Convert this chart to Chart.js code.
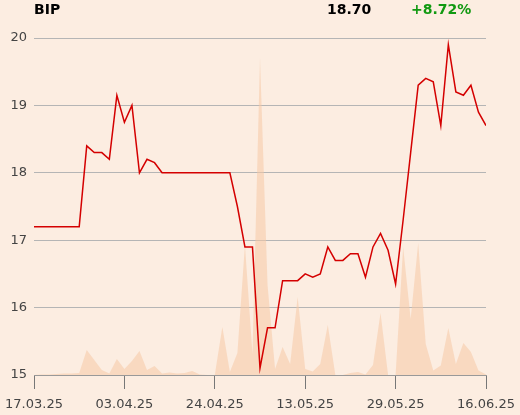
<!DOCTYPE html>
<html>
<head>
<meta charset="utf-8">
<script src="https://cdn.jsdelivr.net/npm/chart.js@4"></script>
<style>
  html, body { margin:0; padding:0; background:#FCEDE1; }
  #wrap { position:relative; width:520px; height:415px; }
  canvas { position:absolute; left:0; top:0; }
  .hdr { position:absolute; top:1px; font-family:"DejaVu Sans", sans-serif; font-weight:bold; font-size:14px; white-space:nowrap; }
</style>
</head>
<body>
<div id="wrap">
  <canvas id="c" width="520" height="415"></canvas>
  <div class="hdr" style="left:34px;color:#000;">BIP</div>
  <div class="hdr" style="left:327px;color:#000;">18.70</div>
  <div class="hdr" style="left:411px;color:#119911;">+8.72%</div>
</div>
<script>
const tickLabels = ['17.03.25','03.04.25','24.04.25','13.05.25','29.05.25','16.06.25'];
const price = [
  17.2,17.2,17.2,17.2,17.2,17.2,17.2,
  18.4,18.3,18.3,18.2,19.15,18.75,19.0,18.0,18.2,18.15,
  18.0,18.0,18.0,18.0,18.0,18.0,18.0,18.0,18.0,18.0,
  17.5,16.9,16.9,15.1,15.7,15.7,16.4,16.4,16.4,16.5,16.45,16.5,
  16.9,16.7,16.7,16.8,16.8,16.45,16.9,17.1,16.85,16.35,
  17.3,18.3,19.3,19.4,19.35,18.7,19.9,19.2,19.15,19.3,18.9,18.7
];
const volume = [
  0,0.5,0.5,1,1.5,1.5,2,
  25,15,5,1.5,16,6,14,24,5,9,
  1.5,2.5,1.5,2,4,0.5,0,0,48,3,
  22,130,21,317,90,6,28,11,78,6,3.5,11,
  50,0,0,2,3,0.5,10,62,0,0,
  128,56,132,31,4.5,9.5,47,11,32,23,4.5,0.5
];

const pricePts = price.map((v,i)=>({x:i,y:v}));
const volPts = volume.map((v,i)=>({x:i,y:v}));

new Chart(document.getElementById('c'), {
  type:'line',
  data:{
    datasets:[
      { data:pricePts, borderColor:'#D40000', borderWidth:1.5, pointRadius:0, tension:0, fill:false, yAxisID:'y' },
      { data:volPts, borderWidth:0, borderColor:'rgba(0,0,0,0)', backgroundColor:'rgba(246,200,166,0.55)', pointRadius:0, tension:0, fill:'origin', yAxisID:'y2' }
    ]
  },
  options:{
    responsive:false,
    animation:false,
    devicePixelRatio:1,
    layout:{ padding:{ top:38, right:34, left:0, bottom:0 } },
    plugins:{ legend:{display:false}, tooltip:{enabled:false}, title:{display:false} },
    scales:{
      x:{
        type:'linear', min:0, max:60,
        grid:{ drawOnChartArea:false, drawTicks:true, tickLength:14, color:'#777' },
        border:{ display:true, color:'#999' },
        ticks:{ stepSize:12, padding:8, color:'#444', font:{ family:'DejaVu Sans', size:13 },
          callback:(v)=> (v%12===0 ? tickLabels[v/12] : '') , maxRotation:0, autoSkip:false },
        afterFit:(s)=>{ s.height = 40; s.paddingLeft = 0; s.paddingRight = 0; }
      },
      y:{
        min:15, max:20,
        grid:{ color:'#B5B5B5', drawTicks:false },
        border:{ display:false },
        ticks:{ stepSize:1, padding:7, color:'#444', font:{ family:'DejaVu Sans', size:13 } },
        afterFit:(s)=>{ s.width = 34; }
      },
      y2:{ display:false, min:0, max:337 }
    }
  }
});
</script>
</body>
</html>
